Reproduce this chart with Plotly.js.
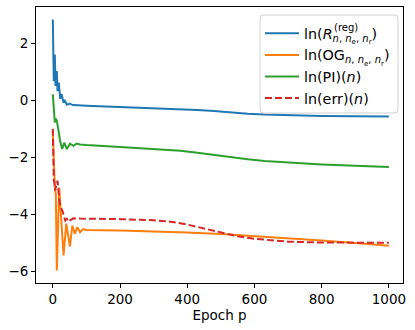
<!DOCTYPE html>
<html>
<head>
<meta charset="utf-8">
<script src="https://cdn.plot.ly/plotly-3.0.1.min.js"></script>
<style>html,body{margin:0;padding:0;background:#fff;}#chart{width:415px;height:330px;}</style>
</head>
<body>
<div id="chart"></div>
<script>
// ln(R^(reg))
const regX = [0,3,6,8,12,14,18,22,26,32,36,42,50,60,100,200,300,380,430,480,530,580,630,680,730,800,900,1000];
const regY = [2.83,0.67,1.6,0.5,1.02,0.32,0.62,0.05,0.22,-0.09,-0.02,-0.16,-0.12,-0.17,-0.19,-0.23,-0.27,-0.31,-0.34,-0.38,-0.43,-0.47,-0.50,-0.52,-0.535,-0.55,-0.56,-0.57];
// ln(OG)
const ogX = [0,3,6,9,12,19,25,32,40,51,58,66,73,81,90,100,200,300,400,500,600,700,800,900,1000];
const ogY = [-1.05,-2.2,-3.06,-3.3,-5.97,-3.06,-4.2,-5.44,-4.33,-5.13,-4.4,-4.68,-4.45,-4.63,-4.52,-4.55,-4.57,-4.6,-4.64,-4.69,-4.76,-4.84,-4.92,-5.01,-5.1];
// ln(PI)
const piX = [0,3,6,9,12,16,22,28,34,42,51,61,71,81,100,200,300,380,430,480,530,580,630,680,730,800,900,1000];
const piY = [0.21,-0.4,-0.78,-0.65,-0.72,-1.0,-1.45,-1.71,-1.49,-1.71,-1.52,-1.6,-1.52,-1.55,-1.57,-1.64,-1.70,-1.77,-1.84,-1.92,-2.00,-2.07,-2.13,-2.17,-2.20,-2.25,-2.30,-2.34];
// ln(err)
const errX = [0,1,3,5,7,10,14,17,20,24,30,37,42,46,52,61,80,100,200,300,350,400,450,500,550,600,650,700,800,900,1000];
const errY = [-1.0,-2.0,-2.82,-2.9,-3.17,-3.0,-2.82,-3.2,-3.58,-3.75,-3.93,-4.22,-4.16,-4.25,-4.2,-4.14,-4.15,-4.15,-4.17,-4.21,-4.26,-4.36,-4.5,-4.65,-4.77,-4.86,-4.92,-4.96,-4.99,-5.0,-5.0];

const names = [
  'ln(<i>R</i><sub><i>n</i>, <i>n</i><sub>e</sub>, <i>n</i><sub>r</sub></sub>)',
  'ln(OG<sub><i>n</i>, <i>n</i><sub>e</sub>, <i>n</i><sub>r</sub></sub>)',
  'ln(PI)(<i>n</i>)',
  'ln(err)(<i>n</i>)'
];
const regSup = '(reg)';
const xTicks = [0,200,400,600,800,1000];
const yTicks = [-6,-4,-2,0,2];

const font = {family: 'DejaVu Sans, sans-serif', size: 13.5, color: '#000'};
const legFont = {family: 'DejaVu Sans, sans-serif', size: 14.3, color: '#000'};
const colors = ['#1f77b4', '#ff7f0e', '#2ca02c', '#d62728'];
const traces = [
  {x: regX, y: regY, name: names[0], legendgroup: 'a', mode: 'lines', line: {color: colors[0], width: 2}},
  {x: ogX, y: ogY, name: names[1], legendgroup: 'b', mode: 'lines', line: {color: colors[1], width: 2}},
  {x: piX, y: piY, name: names[2], legendgroup: 'c', mode: 'lines', line: {color: colors[2], width: 2}},
  {x: errX, y: errY, name: names[3], legendgroup: 'd', mode: 'lines', line: {color: colors[3], width: 2, dash: '7px,3px'}}
];
const axisCommon = {
  showline: true, mirror: true, linecolor: '#000', linewidth: 1,
  ticks: 'outside', ticklen: 4, tickwidth: 1, tickcolor: '#000',
  showgrid: false, zeroline: false, tickfont: font
};
const M = {l: 36, r: 12, t: 7, b: 47};
const W = 415 - M.l - M.r, H = 330 - M.t - M.b;
const px2x = p => (p - M.l) / W;
const px2y = p => 1 - (p - M.t) / H;

// legend frame (pixel box -> paper), rounded corners
function framePath(l, t, r, b, rad) {
  const xa = px2x(l), xb = px2x(r), ya = px2y(b), yb = px2y(t);
  const rx = rad / W, ry = rad / H;
  return `M${xa+rx},${yb} L${xb-rx},${yb} Q${xb},${yb} ${xb},${yb-ry} L${xb},${ya+ry} Q${xb},${ya} ${xb-rx},${ya} ` +
         `L${xa+rx},${ya} Q${xa},${ya} ${xa},${ya+ry} L${xa},${yb-ry} Q${xa},${yb} ${xa+rx},${yb} Z`;
}

const layout = {
  width: 415, height: 330,
  margin: M,
  paper_bgcolor: '#fff', plot_bgcolor: '#fff',
  font: font,
  showlegend: true,
  legend: {
    x: px2x(260), y: px2y(17.5), xanchor: 'left', yanchor: 'top',
    bgcolor: 'rgba(0,0,0,0)', borderwidth: 0, itemwidth: 34,
    font: legFont, tracegroupgap: 0.5, traceorder: 'normal'
  },
  shapes: [{
    type: 'path', xref: 'paper', yref: 'paper', layer: 'above',
    path: framePath(260, 15, 398, 113, 3),
    fillcolor: 'rgba(255,255,255,0.8)', line: {color: '#d0d0d0', width: 1}
  }],
  xaxis: Object.assign({}, axisCommon, {
    range: [-50, 1042], tickvals: xTicks, ticktext: xTicks.map(String),
    title: {text: 'Epoch p', font: font, standoff: 4}
  }),
  yaxis: Object.assign({}, axisCommon, {
    range: [-6.41, 3.27], tickvals: yTicks, ticktext: yTicks.map(v => v < 0 ? '\u2212' + Math.abs(v) : String(v))
  })
};
Plotly.newPlot('chart', traces, layout, {staticPlot: true, displayModeBar: false}).then(gd => {
  const lt = gd.querySelector('.legend .traces .legendtext');
  if (!lt) return;
  const sub = Array.from(lt.querySelectorAll('tspan')).find(t => (t.getAttribute('style') || '').indexOf('70%') >= 0);
  if (!sub) return;
  const c = gd.getBoundingClientRect();
  const r = sub.getBoundingClientRect();
  const px = r.left - c.left, py = r.top - c.top;
  Plotly.relayout(gd, {annotations: [{
    text: regSup, xref: 'paper', yref: 'paper',
    x: px2x(px), y: px2y(py + 1.5),
    xanchor: 'left', yanchor: 'bottom', showarrow: false,
    font: {family: 'DejaVu Sans, sans-serif', size: 10, color: '#000'}, borderpad: 0
  }]});
});
</script>
</body>
</html>
